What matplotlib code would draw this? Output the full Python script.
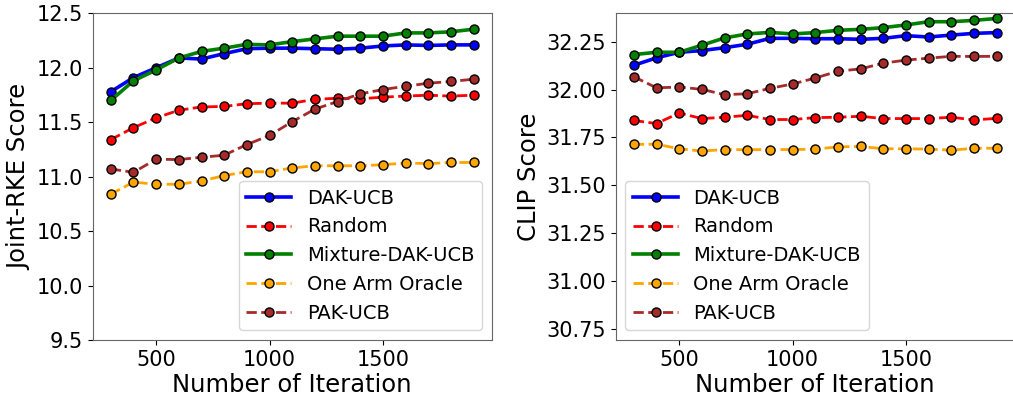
import numpy as np
import matplotlib.pyplot as plt

# Iteration counts shared by both panels
iters = [300, 400, 500, 600, 700, 800, 900, 1000, 1100, 1200, 1300, 1400, 1500, 1600, 1700, 1800, 1900]

# Joint-RKE score per method
rke_dak = [11.78, 11.91, 12.00, 12.09, 12.08, 12.13, 12.175, 12.18, 12.18, 12.175, 12.17, 12.18, 12.20, 12.21, 12.205, 12.21, 12.21]
rke_random = [11.34, 11.45, 11.54, 11.61, 11.64, 11.645, 11.67, 11.675, 11.675, 11.71, 11.72, 11.715, 11.73, 11.74, 11.748, 11.74, 11.748]
rke_mixture = [11.70, 11.88, 11.98, 12.09, 12.15, 12.18, 12.215, 12.21, 12.24, 12.265, 12.29, 12.29, 12.29, 12.32, 12.32, 12.33, 12.354]
rke_oracle = [10.84, 10.95, 10.93, 10.93, 10.96, 11.01, 11.045, 11.045, 11.08, 11.10, 11.10, 11.10, 11.11, 11.125, 11.12, 11.13, 11.13]
rke_pak = [11.07, 11.04, 11.16, 11.157, 11.178, 11.197, 11.295, 11.378, 11.505, 11.62, 11.69, 11.76, 11.80, 11.83, 11.858, 11.874, 11.895]

# CLIP score per method
clip_dak = [32.128, 32.167, 32.196, 32.205, 32.22, 32.238, 32.269, 32.269, 32.267, 32.267, 32.264, 32.269, 32.283, 32.276, 32.286, 32.295, 32.299]
clip_random = [31.839, 31.823, 31.878, 31.849, 31.856, 31.866, 31.844, 31.844, 31.854, 31.856, 31.861, 31.849, 31.849, 31.849, 31.856, 31.842, 31.85]
clip_mixture = [32.184, 32.196, 32.196, 32.233, 32.271, 32.292, 32.30, 32.292, 32.299, 32.311, 32.316, 32.325, 32.339, 32.356, 32.356, 32.363, 32.373]
clip_oracle = [31.714, 31.715, 31.691, 31.679, 31.687, 31.686, 31.687, 31.687, 31.689, 31.701, 31.703, 31.691, 31.691, 31.689, 31.684, 31.693, 31.694]
clip_pak = [32.068, 32.01, 32.014, 32.002, 31.974, 31.979, 32.007, 32.03, 32.061, 32.097, 32.109, 32.139, 32.155, 32.165, 32.175, 32.174, 32.175]

methods = ["DAK-UCB", "Random", "Mixture-DAK-UCB", "One Arm Oracle", "PAK-UCB"]
colors = ["blue", "red", "green", "orange", "brown"]
styles = ["-", "--", "-", "--", "--"]
widths = [2.6, 2.0, 2.6, 2.0, 2.0]


def drawPanel(ax, series, yLabNam, yLim, yTicks, legLoc):
    for yData, lab, col, ls, lw in zip(series, methods, colors, styles, widths):
        ax.plot(iters, yData, linestyle=ls, color=col, linewidth=lw, marker="o",
                markersize=6.5, markerfacecolor=col, markeredgecolor="black",
                markeredgewidth=1.0, label=lab)
    ax.set_ylim(*yLim)
    ax.set_yticks(yTicks)
    ax.set_xticks([500, 1000, 1500])
    ax.set_xlabel("Number of Iteration", fontsize=17.5, labelpad=2)
    ax.set_ylabel(yLabNam, fontsize=17.5)
    ax.tick_params(axis="both", labelsize=15)
    for sp in ax.spines.values():
        sp.set_color("0.4")
    ax.legend(loc=legLoc, fontsize=14, handlelength=2.3, labelspacing=0.5)


fig = plt.figure(figsize=(10.13, 3.96), dpi=100)
axL = fig.add_axes([0.0915, 0.1414, 0.3939, 0.825])
axR = fig.add_axes([0.6078, 0.1414, 0.3939, 0.825])

drawPanel(axL, [rke_dak, rke_random, rke_mixture, rke_oracle, rke_pak], "Joint-RKE Score",
          (9.5, 12.5), np.arange(9.5, 12.51, 0.5), "lower right")
drawPanel(axR, [clip_dak, clip_random, clip_mixture, clip_oracle, clip_pak], "CLIP Score",
          (30.69, 32.40), np.arange(30.75, 32.26, 0.25), "lower left")

fig.savefig("out.png", dpi=100)
plt.close()
